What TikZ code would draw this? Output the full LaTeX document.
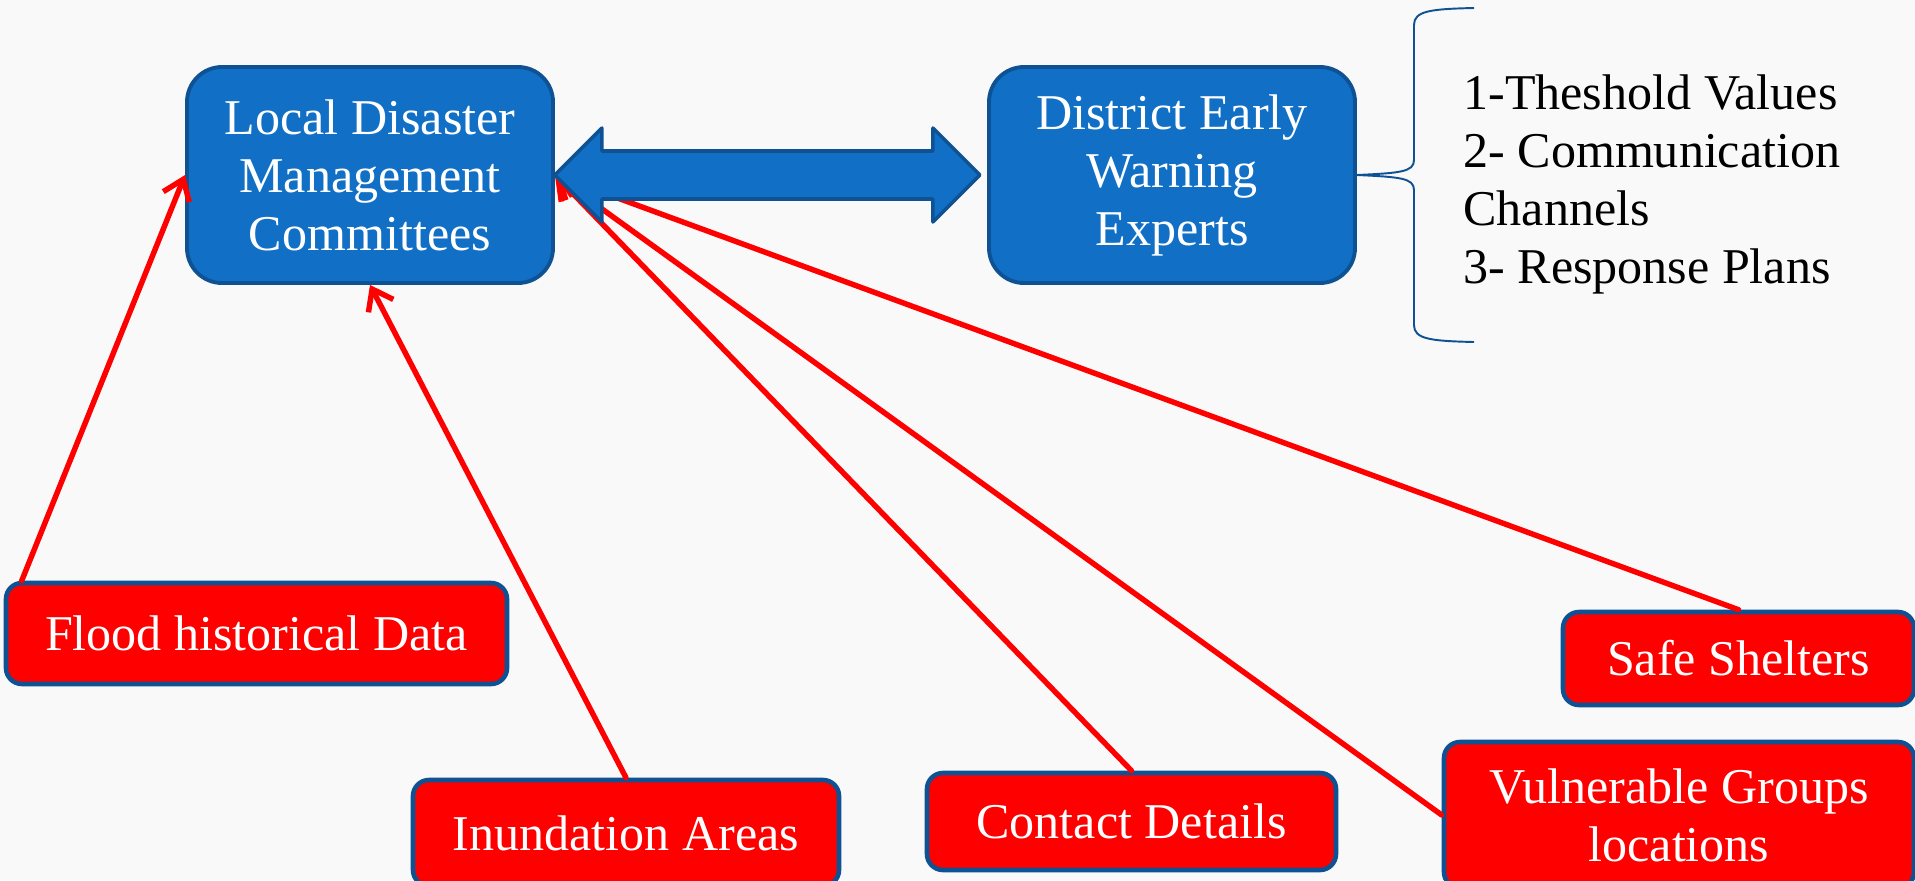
\documentclass[tikz,border=0pt]{standalone}
\usepackage{fontspec}
\setmainfont{Liberation Serif}
\usetikzlibrary{arrows.meta}
\definecolor{boxblue}{RGB}{17,112,197}
\definecolor{edgeblue}{RGB}{14,82,148}
\definecolor{paper}{RGB}{249,249,249}
\newcommand{\bigfont}{\fontsize{28.5}{33}\selectfont}
\begin{document}
\begin{tikzpicture}[%
% common options for the blue blocks:
block/.style = {rectangle, draw=edgeblue, line width=2.2pt, fill=boxblue, text=white,
            rounded corners=0.7cm, align=center, font=\bigfont,
            minimum width=7.32cm, minimum height=4.32cm, inner sep=0},
% common options for the red boxes:
item/.style = {rectangle, draw=edgeblue, line width=2.6pt, fill=red, text=white,
            rounded corners=0.32cm, align=center, font=\bigfont, inner sep=0},
% common options for the red connectors:
feed/.style = {red, line width=3.1pt, line cap=round},
link/.style = {draw=edgeblue, line width=2pt, fill=boxblue, line join=round},
>={Straight Barb[length=0.38cm,width=0.56cm]}]
\clip (0,0) rectangle (38.3,-17.6);
\fill[paper] (0,0) rectangle (38.3,-17.6);
\node[block] (C0) at (7.4,-3.5) {Local Disaster\\Management\\Committees};
\node[block] (C1) at (23.44,-3.5) {District Early\\Warning\\Experts};
\node[anchor=north west, align=left, font=\bigfont, inner sep=0] (T0) at (29.26,-1.48)
  {1-Theshold Values\\2- Communication\\Channels\\3- Response Plans};
\node[item, minimum width=10.02cm, minimum height=2.02cm] (R1) at (5.13,-12.67) {Flood historical Data};
\node[item, minimum width=8.52cm, minimum height=2.12cm] (R2) at (12.52,-16.66) {Inundation Areas};
\node[item, minimum width=8.18cm, minimum height=1.94cm] (R3) at (22.63,-16.43) {Contact Details};
\node[item, minimum width=9.4cm, minimum height=2.92cm] (R4) at (33.58,-16.3) {Vulnerable Groups\\locations};
\node[item, minimum width=7.02cm, minimum height=1.86cm] (R5) at (34.77,-13.17) {Safe Shelters};
\draw[edgeblue, line width=1.1pt] (C1.east) .. controls (28.0,-3.46) and (28.28,-3.44) .. (28.28,-3.2)
  -- (28.28,-0.5) .. controls (28.28,-0.22) and (28.6,-0.18) .. (29.48,-0.16);
\draw[edgeblue, line width=1.1pt] (C1.east) .. controls (28.0,-3.54) and (28.28,-3.56) .. (28.28,-3.8)
  -- (28.28,-6.5) .. controls (28.28,-6.78) and (28.6,-6.82) .. (29.48,-6.84);
\draw[feed, ->] ([xshift=0.36cm]R1.north west) to (C0.west);
\draw[feed, ->] (R2.north) to (C0.south);
\draw[feed, ->] (R3.north) to (C0.east);
\draw[feed, ->] (R4.west) to (C0.east);
\draw[feed, ->] (R5.north) to (C0.east);
\draw[link] (C0.east) -- ++(0.94,0.94) -- ++(0,-0.46) -- ++(6.62,0) -- ++(0,0.46) -- ++(0.94,-0.94)
  -- ++(-0.94,-0.94) -- ++(0,0.46) -- ++(-6.62,0) -- ++(0,-0.46) -- cycle;
\end{tikzpicture}
\end{document}
